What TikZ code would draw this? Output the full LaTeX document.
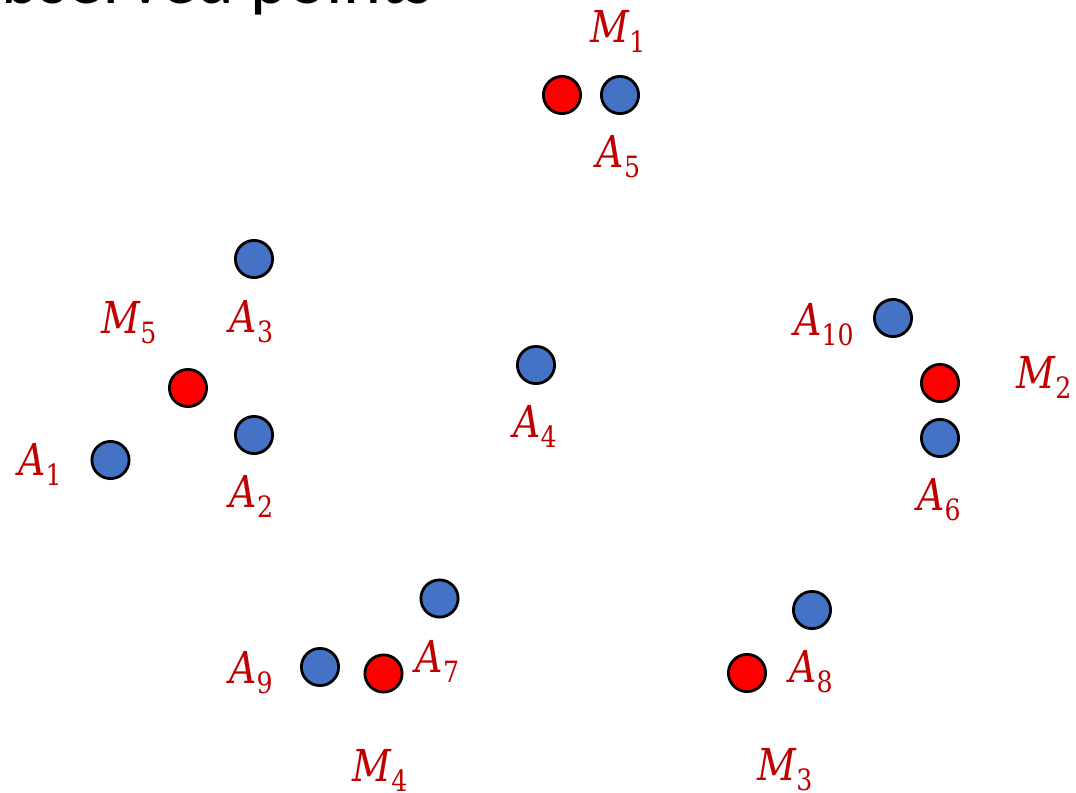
\documentclass[tikz,border=0pt]{standalone}
\usepackage{fontspec}
\newfontfamily\titlefont{Carlito}
\newfontfamily\lblitfont[FakeStretch=0.86]{DejaVu Serif}
\definecolor{ptblue}{HTML}{4472C4}
\definecolor{ptred}{HTML}{FF0000}
\definecolor{lblred}{HTML}{C00000}
\newcommand{\lab}[2]{{\lblitfont\itshape\fontsize{33}{36}\selectfont #1}\raisebox{-7.5pt}{\lblitfont\fontsize{22}{24}\selectfont #2}}
\tikzset{
  pt/.style={circle, draw=black, line width=2.1pt, minimum size=27.9pt, inner sep=0pt},
  bluept/.style={pt, fill=ptblue},
  redpt/.style={pt, fill=ptred},
  lbl/.style={text=lblred, inner sep=0pt, anchor=base},
}
\begin{document}
\begin{tikzpicture}[x=0.75pt,y=-0.75pt]
\useasboundingbox (0,0) rectangle (1076,793);
\begin{scope}
\clip (0,0) rectangle (1076,793);
\node[anchor=base east, inner sep=0pt, font=\titlefont\fontsize{54}{60}\selectfont] (title) at (433,3) {Observed points};
% points
\node[redpt] (M1) at (562,95) {};
\node[bluept] (A5) at (620,95) {};
\node[bluept] (A3) at (254,259) {};
\node[redpt] (M5) at (188,388) {};
\node[bluept] (A2) at (254,435) {};
\node[bluept] (A1) at (110.5,460) {};
\node[bluept] (A4) at (536,365) {};
\node[bluept] (A10) at (893,318) {};
\node[redpt] (M2) at (940,383) {};
\node[bluept] (A6) at (940,438) {};
\node[bluept] (A7) at (439.5,598.5) {};
\node[bluept] (A9) at (320,667) {};
\node[redpt] (M4) at (383.5,673.5) {};
\node[bluept] (A8) at (812,610) {};
\node[redpt] (M3) at (747,673) {};
% labels
\node[lbl] (lM1) at (618,42) {\lab{M}{1}};
\node[lbl] (lA5) at (618.5,167) {\lab{A}{5}};
\node[lbl] (lA3) at (251.5,332) {\lab{A}{3}};
\node[lbl] (lM5) at (129,333) {\lab{M}{5}};
\node[lbl] (lA2) at (251.5,507) {\lab{A}{2}};
\node[lbl] (lA1) at (40,475) {\lab{A}{1}};
\node[lbl] (lA4) at (535,437) {\lab{A}{4}};
\node[lbl] (lA10) at (824,335) {\lab{A}{10}};
\node[lbl] (lM2) at (1044,388) {\lab{M}{2}};
\node[lbl] (lA6) at (939,510) {\lab{A}{6}};
\node[lbl] (lA7) at (437.5,672) {\lab{A}{7}};
\node[lbl] (lA9) at (251,683) {\lab{A}{9}};
\node[lbl] (lM4) at (380,781) {\lab{M}{4}};
\node[lbl] (lA8) at (811,682) {\lab{A}{8}};
\node[lbl] (lM3) at (785,780) {\lab{M}{3}};
\end{scope}
\end{tikzpicture}
\end{document}
